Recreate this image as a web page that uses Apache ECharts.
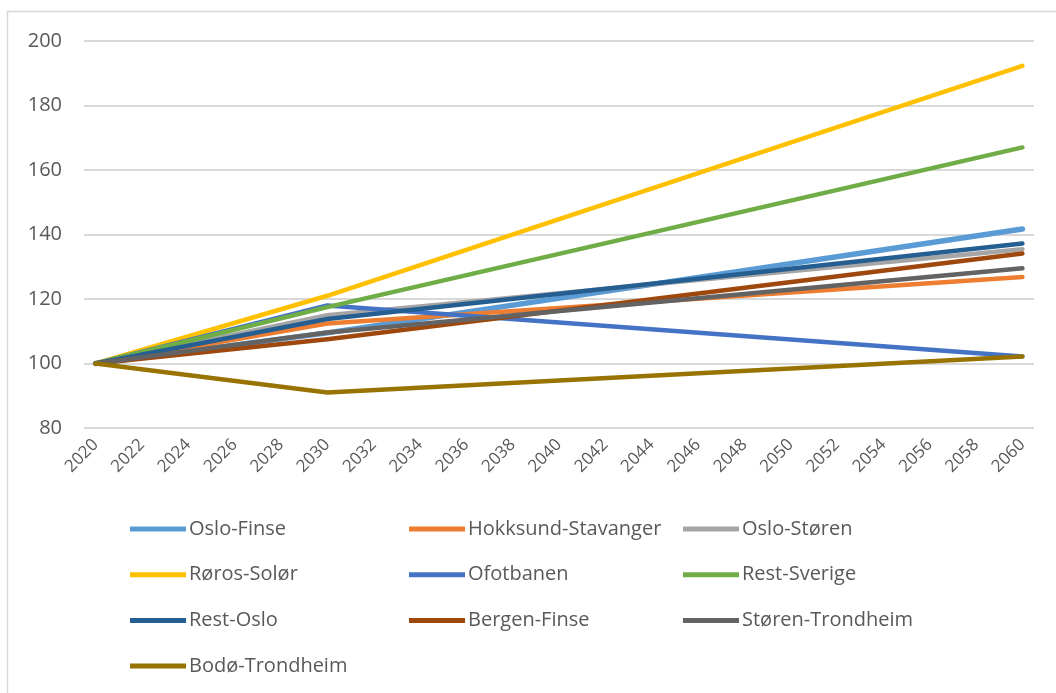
<!DOCTYPE html>
<html>
<head>
<meta charset="utf-8" />
<title></title>
<script type="text/javascript" src="https://cdn.jsdelivr.net/npm/echarts@6/dist/echarts.min.js"></script>
</head>
<body style="margin:0;">
<div id="chart" style="width:1056px;height:693px;"></div>
<script type="text/javascript">
// years with a known value, and the labels shown under the axis
var years = [2020, 2030, 2060];
var yearTicks = [2020, 2022, 2024, 2026, 2028, 2030, 2032, 2034, 2036, 2038, 2040,
                 2042, 2044, 2046, 2048, 2050, 2052, 2054, 2056, 2058, 2060];

var names = ['Oslo-Finse', 'Hokksund-Stavanger', 'Oslo-Støren', 'Røros-Solør', 'Ofotbanen',
             'Rest-Sverige', 'Rest-Oslo', 'Bergen-Finse', 'Støren-Trondheim', 'Bodø-Trondheim'];

var osloFinse       = [100, 109.5, 141.7];
var hokksund        = [100, 112.4, 126.8];
var osloStoren      = [100, 115.0, 135.4];
var rorosSolor      = [100, 121.0, 192.3];
var ofotbanen       = [100, 118.0, 102.2];
var restSverige     = [100, 117.5, 167.0];
var restOslo        = [100, 113.8, 137.2];
var bergenFinse     = [100, 107.5, 134.1];
var storenTrondheim = [100, 109.6, 129.5];
var bodoTrondheim   = [100, 91.0, 102.2];

var values = [osloFinse, hokksund, osloStoren, rorosSolor, ofotbanen,
              restSverige, restOslo, bergenFinse, storenTrondheim, bodoTrondheim];
var colors = ['#5B9BD5', '#ED7D31', '#A5A5A5', '#FFC000', '#4472C4',
              '#70AD47', '#255E91', '#9E480E', '#636363', '#997300'];

var font = 'Open Sans';
var textColor = '#595959';

var series = names.map(function (name, i) {
    return {
        name: name,
        type: 'line',
        data: years.map(function (y, j) { return [y, values[i][j]]; }),
        symbol: 'none',
        lineStyle: { width: i === 0 ? 5.5 : 4.5, color: colors[i], cap: 'round', join: 'round' },
        itemStyle: { color: colors[i] },
        emphasis: { disabled: true }
    };
});

var legendBase = {
    orient: 'vertical',
    top: 519,
    padding: 0,
    itemWidth: 56,
    itemHeight: 20,
    itemGap: 25.7,
    icon: 'path://M0,0 h56 v5 h-56 z',
    selectedMode: false,
    textStyle: { color: textColor, fontFamily: font, fontSize: 20, lineHeight: 20, padding: [0, 0, 0, -2] }
};
function legend(left, data) {
    return Object.assign({}, legendBase, { left: left, data: data });
}

var chart = echarts.init(document.getElementById('chart'));
chart.setOption({
    animation: false,
    backgroundColor: '#fff',
    color: colors,
    graphic: [{
        type: 'rect',
        shape: { x: 7.5, y: 11.5, width: 1060, height: 700 },
        style: { fill: 'none', stroke: '#D9D9D9', lineWidth: 1.5 },
        silent: true
    }],
    legend: [
        legend(130, ['Oslo-Finse', 'Røros-Solør', 'Rest-Oslo', 'Bodø-Trondheim']),
        legend(409, ['Hokksund-Stavanger', 'Ofotbanen', 'Bergen-Finse']),
        legend(683, ['Oslo-Støren', 'Rest-Sverige', 'Støren-Trondheim'])
    ],
    grid: { left: 84, right: 22, top: 41, bottom: 265 },
    xAxis: {
        type: 'value',
        min: 2019.5,
        max: 2060.5,
        axisLine: { show: false },
        axisTick: { show: false },
        splitLine: { show: false },
        axisLabel: {
            customValues: yearTicks,
            formatter: function (v) { return String(v); },
            rotate: 45,
            margin: 14,
            color: textColor,
            fontFamily: font,
            fontSize: 17
        }
    },
    yAxis: {
        type: 'value',
        min: 80,
        max: 200,
        interval: 20,
        axisLine: { show: false },
        axisTick: { show: false },
        splitLine: { lineStyle: { color: '#D9D9D9', width: 2 } },
        axisLabel: { color: textColor, fontFamily: font, fontSize: 20, margin: 22 }
    },
    series: series
});
</script>
</body>
</html>
